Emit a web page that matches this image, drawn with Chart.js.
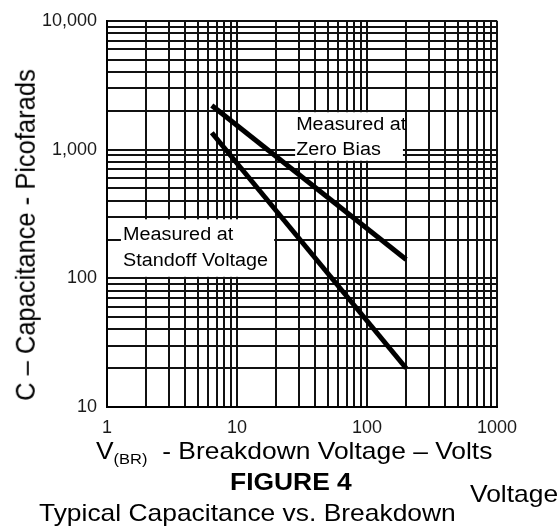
<!DOCTYPE html>
<html>
<head>
<meta charset="utf-8">
<script src="https://cdn.jsdelivr.net/npm/chart.js@4/dist/chart.umd.min.js"></script>
<style>
html,body{margin:0;padding:0;background:#fff;}
#wrap{position:relative;width:558px;height:529px;font-family:"Liberation Sans",Arial,sans-serif;color:#000;overflow:hidden;}
#c{position:absolute;left:0;top:0;}
.t{position:absolute;white-space:nowrap;line-height:1;transform-origin:0 0;}
</style>
</head>
<body>
<div id="wrap">
<canvas id="c" width="558" height="529"></canvas>
<div class="t" id="ytitle" style="left:26px;top:235px;font-size:25.5px;transform:scaleX(1.1) rotate(-90deg) translate(-50%,-50%);">C – Capacitance - Picofarads</div>
<div class="t" id="xtitle" style="left:96px;top:438.7px;font-size:24px;transform:scaleX(1.1);">V<span style="font-size:15px;position:relative;top:5px;">(BR)</span>&nbsp;&nbsp;- Breakdown Voltage – Volts</div>
<div class="t" id="fig" style="left:229.6px;top:469.7px;font-size:24px;font-weight:bold;transform:scaleX(1.1);">FIGURE 4</div>
<div class="t" id="cap2" style="left:469.6px;top:481.7px;font-size:24px;transform:scaleX(1.1);">Voltage</div>
<div class="t" id="cap1" style="left:39px;top:500.7px;font-size:24px;transform:scaleX(1.1);">Typical Capacitance vs. Breakdown</div>
</div>
<script>
// ---- data ----
const xTickValues = [1, 10, 100, 1000];
const xTickLabels = ['1', '10', '100', '1000'];
const yTickValues = [10, 100, 1000, 10000];
const yTickLabels = ['10', '100', '1,000', '10,000'];
const gridSteps = [1, 2, 3, 4, 5, 6, 7, 8, 9];

const zeroBiasV = [6.4, 200];
const zeroBiasC = [2200, 140];
const standoffV = [6.4, 200];
const standoffC = [1350, 20];

// annotation labels (positions in data units)
const noteZeroLines = ['Measured at', 'Zero Bias'];
const noteStandoffLines = ['Measured at', 'Standoff Voltage'];

const notes = [
  { lines: noteZeroLines, box: { x0: 28, x1: 189, y0: 1950, y1: 818 }, textX: 28.5, baselines: [1419, 910] },
  { lines: noteStandoffLines, box: { x0: 1.28, x1: 19.3, y0: 287, y1: 102.6 }, textX: 1.33, baselines: [198, 124.6] }
];

const FONT = '"Liberation Sans", Arial, sans-serif';

function gridValues(min, max) {
  const out = [];
  for (let d = min; d < max; d *= 10) {
    for (const m of gridSteps) out.push(d * m);
  }
  out.push(max);
  return out;
}

const toPoints = (xs, ys) => xs.map((x, i) => ({ x: x, y: ys[i] }));

const notesPlugin = {
  id: 'notes',
  beforeDatasetsDraw(chart) {
    const ctx = chart.ctx;
    const xs = chart.scales.x, ys = chart.scales.y;
    ctx.save();
    for (const n of notes) {
      const l = xs.getPixelForValue(n.box.x0), r = xs.getPixelForValue(n.box.x1);
      const t = ys.getPixelForValue(n.box.y0), b = ys.getPixelForValue(n.box.y1);
      ctx.fillStyle = '#fff';
      ctx.fillRect(l, t, r - l, b - t);
      ctx.fillStyle = '#000';
      ctx.font = '18px ' + FONT;
      ctx.textBaseline = 'alphabetic';
      ctx.textAlign = 'left';
      const tx = xs.getPixelForValue(n.textX);
      n.lines.forEach((line, i) => {
        const ty = ys.getPixelForValue(n.baselines[i]);
        ctx.save();
        ctx.translate(tx, ty);
        ctx.scale(1.1, 1);
        ctx.fillText(line, 0, 0);
        ctx.restore();
      });
    }
    ctx.restore();
  }
};

new Chart(document.getElementById('c'), {
  type: 'scatter',
  data: {
    datasets: [
      { label: 'Measured at Zero Bias', data: toPoints(zeroBiasV, zeroBiasC), showLine: true,
        borderColor: '#000', borderWidth: 5, pointRadius: 0, borderCapStyle: 'butt' },
      { label: 'Measured at Standoff Voltage', data: toPoints(standoffV, standoffC), showLine: true,
        borderColor: '#000', borderWidth: 5, pointRadius: 0, borderCapStyle: 'butt' }
    ]
  },
  options: {
    responsive: false,
    animation: false,
    devicePixelRatio: 1,
    layout: { padding: { left: 0, top: 18, right: 61, bottom: 0 } },
    plugins: { legend: { display: false }, tooltip: { enabled: false }, title: { display: false } },
    scales: {
      x: {
        type: 'logarithmic', position: 'bottom', min: 1, max: 1000,
        afterBuildTicks: s => { s.ticks = gridValues(1, 1000).map(v => ({ value: v })); },
        afterFit: s => { s.height = 122; },
        ticks: {
          autoSkip: false, maxRotation: 0, minRotation: 0, padding: 10, color: '#1a1a1a',
          font: { family: FONT, size: 18 },
          callback: v => { const i = xTickValues.indexOf(v); return i >= 0 ? xTickLabels[i] : ''; }
        },
        grid: { color: '#111', lineWidth: 2, drawTicks: false },
        border: { display: true, color: '#000', width: 2 }
      },
      y: {
        type: 'logarithmic', position: 'left', min: 10, max: 10000,
        afterBuildTicks: s => { s.ticks = gridValues(10, 10000).map(v => ({ value: v })); },
        afterFit: s => { s.width = 107; },
        ticks: {
          autoSkip: false, padding: 10, color: '#1a1a1a',
          font: { family: FONT, size: 18 },
          callback: v => { const i = yTickValues.indexOf(v); return i >= 0 ? yTickLabels[i] : ''; }
        },
        grid: { color: '#111', lineWidth: 2, drawTicks: false },
        border: { display: true, color: '#000', width: 2 }
      }
    }
  },
  plugins: [notesPlugin]
});
</script>
</body>
</html>
